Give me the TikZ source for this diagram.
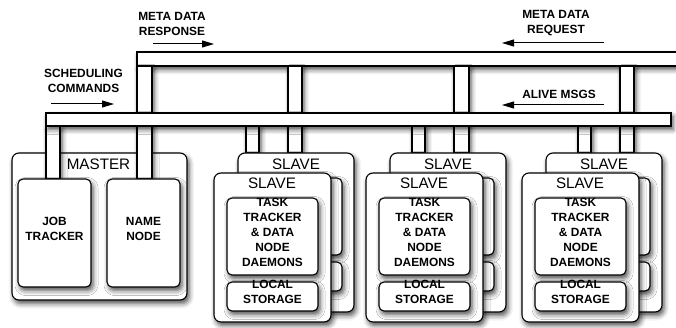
\documentclass[tikz,border=0pt]{standalone}
\usepackage{fontspec}
\setmainfont{Liberation Sans}
\newfontfamily\capsface{Liberation Sans Bold}
\usetikzlibrary{arrows.meta,fit,shadows.blur}

\newcommand\capsfont{\capsface\fontsize{11.9}{15}\selectfont}
\newcommand\titlefont{\fontsize{15.2}{17}\selectfont}

\tikzset{
  softshade/.style={blur shadow={shadow xshift=2pt,shadow yshift=-3.5pt,
      shadow blur radius=5pt,shadow opacity=70}},
  rail/.style={draw,fill=white,line width=1.1pt,inner sep=0pt,softshade},
  outerbox/.style={rail,rounded corners=7pt},
  innerbox/.style={rail,rounded corners=5pt,align=center,font=\capsfont},
  caps/.style={font=\capsfont,align=center,inner sep=0pt},
  boxtitle/.style={font=\titlefont,inner sep=0pt},
  flow/.style={line width=1pt,-{Triangle[length=12pt,width=7pt]}},
}

\begin{document}
\begin{tikzpicture}[x=1pt,y=-1pt]
\useasboundingbox (0,0) rectangle (676,328);

% metadata bus (runs off the right edge)
\node[rail,fit={(137,52) (700,66)}] (metabus) {};

% master machine
\node[outerbox,fit={(12,153) (187,300)}] (master) {};

% risers from the buses down to the machines
\node[rail,fit={(46,126) (60,179)}] (riseJT) {};
\node[rail,fit={(137,66) (152,179)}] (riseNN) {};
\node[rail,fit={(246,126) (259,153)}] (rise1a) {};
\node[rail,fit={(288,66) (302,153)}] (rise1b) {};
\node[rail,fit={(412,126) (425,153)}] (rise2a) {};
\node[rail,fit={(454,66) (469,153)}] (rise2b) {};
\node[rail,fit={(578,126) (591,153)}] (rise3a) {};
\node[rail,fit={(620,66) (634,153)}] (rise3b) {};

% control bus
\node[rail,fit={(46,113) (671,126)}] (ctlbus) {};

% master daemons
\node[boxtitle] (masterlbl) at (98.5,164) {MASTER};
\node[innerbox,fit={(18,179) (91,287)}] (jobtracker) {JOB\\TRACKER};
\node[innerbox,fit={(107,179) (180,287)}] (namenode) {NAME\\NODE};

% slave machines, each a stack of two
\foreach \L/\k in {214/1,366/2,522/3}{
  \node[outerbox,fit={({\L+24},153) ({\L+140},312)}] (back\k) {};
  \node[boxtitle] (backlbl\k) at ({\L+82},164) {SLAVE};
  \node[innerbox,fit={({\L+37},178) ({\L+128},255)}] (backtask\k) {};
  \node[innerbox,fit={({\L+37},262) ({\L+128},291)}] (backstore\k) {};
  \node[outerbox,fit={(\L,173) ({\L+117},322)}] (front\k) {};
  \node[boxtitle] (frontlbl\k) at ({\L+58},183.5) {SLAVE};
  \node[innerbox,fit={({\L+13},198) ({\L+104},275)}] (task\k)
    {TASK\\TRACKER\\\& DATA\\NODE\\DAEMONS};
  \node[innerbox,fit={({\L+13},282) ({\L+104},311)}] (store\k)
    {LOCAL\\STORAGE};
}

% message labels and directions
\node[caps] (rsplbl) at (172,23.5) {META DATA\\RESPONSE};
\coordinate (rspA) at (153,44);
\coordinate (rspB) at (214,44);
\draw[flow] (rspA) -- (rspB);

\node[caps] (schedlbl) at (83.5,80.5) {SCHEDULING\\COMMANDS};
\coordinate (schedA) at (51,104);
\coordinate (schedB) at (114,104);
\draw[flow] (schedA) -- (schedB);

\node[caps] (reqlbl) at (556,23.5) {META DATA\\REQUEST};
\coordinate (reqA) at (604,43);
\coordinate (reqB) at (502,43);
\draw[flow] (reqA) -- (reqB);

\node[caps] (alivelbl) at (559,94) {ALIVE MSGS};
\coordinate (aliveA) at (604,105);
\coordinate (aliveB) at (502,105);
\draw[flow] (aliveA) -- (aliveB);
\end{tikzpicture}
\end{document}
